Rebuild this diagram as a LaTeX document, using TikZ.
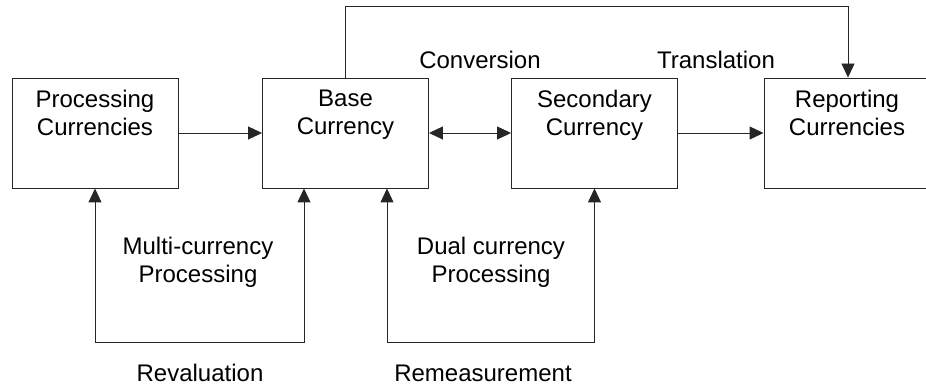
\documentclass[tikz,border=0pt]{standalone}
\usepackage{fontspec}
\setmainfont{Liberation Sans}
\usetikzlibrary{arrows.meta}
\tikzset{
  tip/.tip={Triangle[length=14pt,width=13pt]},
  cbox/.style={draw=black!85, line width=0.9pt, minimum width=166pt, minimum height=110pt, inner sep=0pt},
  boxtext/.style={anchor=north, inner sep=0pt, align=center, font=\fontsize{24}{28}\selectfont},
  lbl/.style={inner sep=0pt, align=center, font=\fontsize{24}{28}\selectfont},
  link/.style={draw=black!85, line width=0.9pt, -tip},
  duallink/.style={draw=black!85, line width=0.9pt, tip-tip}
}
\begin{document}
\begin{tikzpicture}[x=1pt,y=-1pt]
\useasboundingbox (0,0) rectangle (926,390);

% currency boxes
\node[cbox] (proc) at (95,133) {};
\node[cbox] (base) at (345.5,133) {};
\node[cbox] (sec)  at (594.5,133) {};
\node[cbox] (rep)  at (847,133) {};

\node[boxtext] (proct) at ([yshift=-12pt]proc.north) {Processing\\Currencies};
\node[boxtext] (baset) at ([yshift=-12pt]base.north) {Base\\Currency};
\node[boxtext] (sect)  at ([yshift=-12pt]sec.north)  {Secondary\\Currency};
\node[boxtext] (rept)  at ([yshift=-12pt]rep.north)  {Reporting\\Currencies};

% horizontal flows
\draw[link] (proc.east) -- (base.west);
\draw[duallink] (base.east) -- (sec.west);
\draw[link] (sec.east) -- (rep.west);

% translation path over the top
\coordinate (topA) at (345.5,6);
\coordinate (topB) at (848,6);
\draw[link] (base.north) -- (topA) -- (topB) -- (rep.north -| topB);

% revaluation loop
\coordinate (revL) at (95,342);
\coordinate (revR) at (304,342);
\draw[duallink] (proc.south) -- (revL) -- (revR) -- (revR |- base.south);

% remeasurement loop
\coordinate (remL) at (387,342);
\coordinate (remR) at (594.5,342);
\draw[duallink] (remL |- base.south) -- (remL) -- (remR) -- (sec.south);

% labels
\node[lbl] (conv)  at (480,60)  {Conversion};
\node[lbl] (trans) at (716,60)  {Translation};
\node[lbl] (multi) at (198,262) {Multi-currency\\Processing};
\node[lbl] (dual)  at (491,262) {Dual currency\\Processing};
\node[lbl] (reval) at (200,373) {Revaluation};
\node[lbl] (remea) at (483,373) {Remeasurement};
\end{tikzpicture}
\end{document}
